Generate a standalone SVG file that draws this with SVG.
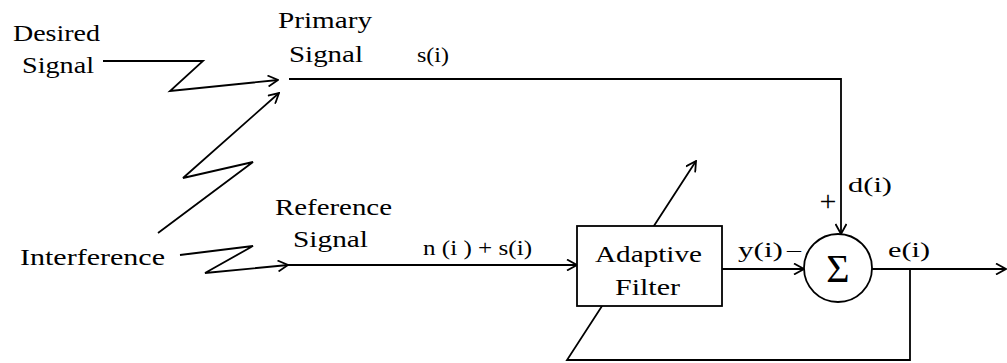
<svg xmlns="http://www.w3.org/2000/svg" width="1007" height="363" viewBox="0 0 1007 363">
<style>
.t{font-family:"Liberation Serif",serif;font-size:24px;fill:#000;stroke:none}
.s{font-size:22px}
.ln{fill:none;stroke:#000;stroke-width:1.8}
.box{fill:#fff;stroke:#000;stroke-width:1.8}
</style>
<defs>
<marker id="a" markerWidth="12" markerHeight="12" refX="11" refY="6" orient="auto" markerUnits="userSpaceOnUse">
<path d="M1,0.5 L11,6 L1,11.5" fill="none" stroke="#000" stroke-width="1.8"/>
</marker>
</defs>
<rect width="1007" height="363" fill="#fff"/>
<g id="connectors">
<polyline class="ln" points="103,61 203,61 170,91 278,80" marker-end="url(#a)"/>
<polyline class="ln" points="158,233 253,162 183,178 279,93" marker-end="url(#a)"/>
<polyline class="ln" points="180,255 253,246 205,273 288,265" marker-end="url(#a)"/>
<polyline class="ln" points="289,79 841,79 841,234" marker-end="url(#a)"/>
<line class="ln" x1="288" y1="265" x2="577" y2="265" marker-end="url(#a)"/>
<line class="ln" x1="722" y1="269" x2="804" y2="269" marker-end="url(#a)"/>
<line class="ln" x1="872" y1="269" x2="1006" y2="269" marker-end="url(#a)"/>
<polyline class="ln" points="910,269 910,360 567,360 696,161" marker-end="url(#a)"/>
</g>
<g id="desired"><text class="t" x="13" y="41" textLength="87" lengthAdjust="spacingAndGlyphs">Desired</text><text class="t" x="22" y="73" textLength="72" lengthAdjust="spacingAndGlyphs">Signal</text></g>
<g id="interference"><text class="t" x="20" y="265" textLength="145" lengthAdjust="spacingAndGlyphs">Interference</text></g>
<g id="primary"><text class="t" x="278" y="28" textLength="94" lengthAdjust="spacingAndGlyphs">Primary</text><text class="t" x="289" y="62" textLength="74" lengthAdjust="spacingAndGlyphs">Signal</text></g>
<g id="reference"><text class="t" x="275" y="215" textLength="117" lengthAdjust="spacingAndGlyphs">Reference</text><text class="t" x="293" y="247" textLength="75" lengthAdjust="spacingAndGlyphs">Signal</text></g>
<g id="filter"><rect x="577" y="226" width="145" height="80" class="box"/><text class="t" x="595" y="262" textLength="107" lengthAdjust="spacingAndGlyphs">Adaptive</text><text class="t" x="615" y="295" textLength="65" lengthAdjust="spacingAndGlyphs">Filter</text></g>
<g id="sum"><circle cx="838" cy="268" r="34" class="box"/><text class="t" x="838" y="282" text-anchor="middle" style="font-size:40px">Σ</text></g>
<g id="labels">
<text class="t s" x="417" y="62" textLength="32" lengthAdjust="spacingAndGlyphs">s(i)</text>
<text class="t s" x="423" y="255" textLength="109" lengthAdjust="spacingAndGlyphs">n (i ) + s(i)</text>
<text class="t s" x="848" y="192" textLength="44" lengthAdjust="spacingAndGlyphs">d(i)</text>
<text class="t" x="828" y="211" text-anchor="middle" style="font-size:30px">+</text>
<text class="t s" x="738" y="257" textLength="45" lengthAdjust="spacingAndGlyphs">y(i)</text>
<text class="t s" x="787" y="257" textLength="14" lengthAdjust="spacingAndGlyphs">–</text>
<text class="t s" x="888" y="257" textLength="42" lengthAdjust="spacingAndGlyphs">e(i)</text>
</g>
</svg>
